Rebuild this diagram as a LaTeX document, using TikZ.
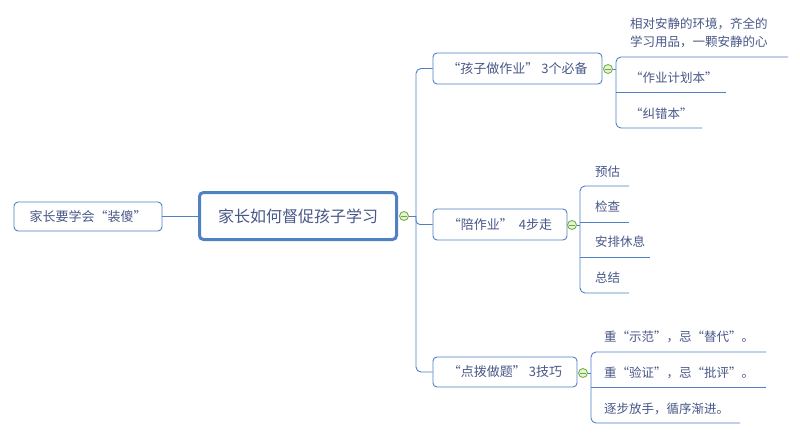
\documentclass[tikz,border=0pt]{standalone}
\usepackage{fontspec}
\setmainfont{Noto Sans CJK SC}
\definecolor{edge}{RGB}{79,129,196}
\definecolor{txt}{RGB}{72,88,136}
\definecolor{tg}{RGB}{110,170,60}
\definecolor{tf}{RGB}{228,242,214}
\tikzset{
  box/.style={draw=edge, rounded corners=4pt, line width=0.9pt, text=txt,
    font=\fontsize{13}{16}\selectfont, inner sep=0pt, fill=white},
  root/.style={box, line width=3pt, font=\fontsize{16}{19}\selectfont},
  leaf/.style={text=txt, font=\fontsize{12.5}{17.4}\selectfont, inner sep=0pt, align=left, anchor=west},
  conn/.style={draw=edge, line width=0.9pt},
  toggle/.style={circle, draw=tg, fill=tf, line width=0.8pt, minimum size=9pt, inner sep=0pt,
    path picture={\draw[tg, line width=0.9pt] ([xshift=-2.6pt]path picture bounding box.center) -- ([xshift=2.6pt]path picture bounding box.center);}}
}
\begin{document}
\begin{tikzpicture}[x=1pt, y=-1pt]
\useasboundingbox[fill=white] (0,0) rectangle (800,436);

% main nodes
\node[box, minimum width=148pt, minimum height=29pt] (L) at (88,216.5) {家长要学会“装傻”};
\node[root, minimum width=197pt, minimum height=47pt] (R) at (298,216) {家长如何督促孩子学习};
\node[box, minimum width=169pt, minimum height=31pt] (b1) at (517.5,68.5) {“孩子做作业” 3个必备};
\node[box, minimum width=134pt, minimum height=31pt] (b2) at (500,224.5) {“陪作业”\ \ 4步走};
\node[box, minimum width=144pt, minimum height=30pt] (b3) at (505,372) {“点拨做题” 3技巧};

% toggles
\node[toggle] (t0) at (404,216) {};
\node[toggle] (t1) at (608,69) {};
\node[toggle] (t2) at (572,225) {};
\node[toggle] (t3) at (583,373) {};

% trunk
\coordinate (tk) at (416,0);
\draw[conn] (L.east |- R.west) -- (R.west);
\draw[conn] (t0.east) -- (t0.east -| tk);
\draw[conn, rounded corners=5pt] (b1.west) -- (b1.west -| tk) -- (b3.west -| tk) -- (b3.west);
\draw[conn, rounded corners=4pt] (t0.east -| tk) |- (b2.west);

% branch 1 leaves
\node[leaf] (c11) at (630,33) {相对安静的环境，齐全的\\学习用品，一颗安静的心};
\node[leaf] (c12) at (630,78) {“作业计划本”};
\node[leaf] (c13) at (630,114) {“纠错本”};
\coordinate (u11a) at (616,57);  \coordinate (u11b) at (788,57);
\coordinate (u12a) at (616,92);  \coordinate (u12b) at (726,92);
\coordinate (u13a) at (616,128); \coordinate (u13b) at (702,128);
\draw[conn] (t1.east) -- (t1.east -| u11a);
\draw[conn, rounded corners=5pt] (u11b) -- (u11a) -- (u13a) -- (u13b);
\draw[conn] (u12a) -- (u12b);

% branch 2 leaves
\node[leaf] (c21) at (595,172) {预估};
\node[leaf] (c22) at (595,207) {检查};
\node[leaf] (c23) at (595,242) {安排休息};
\node[leaf] (c24) at (595,278) {总结};
\coordinate (u21a) at (580,186); \coordinate (u21b) at (629,186);
\coordinate (u22a) at (580,222); \coordinate (u22b) at (629,222);
\coordinate (u23a) at (580,257); \coordinate (u23b) at (650,257);
\coordinate (u24a) at (580,293); \coordinate (u24b) at (629,293);
\draw[conn] (t2.east) -- (t2.east -| u21a);
\draw[conn, rounded corners=5pt] (u21b) -- (u21a) -- (u24a) -- (u24b);
\draw[conn] (u22a) -- (u22b);
\draw[conn] (u23a) -- (u23b);

% branch 3 leaves
\node[leaf] (c31) at (604,337) {重“示范”，忌“替代”。};
\node[leaf] (c32) at (604,373) {重“验证”，忌“批评”。};
\node[leaf] (c33) at (604,409) {逐步放手，循序渐进。};
\coordinate (u31a) at (591,352); \coordinate (u31b) at (766,352);
\coordinate (u32a) at (591,387); \coordinate (u32b) at (766,387);
\coordinate (u33a) at (591,423); \coordinate (u33b) at (740,423);
\draw[conn] (t3.east) -- (t3.east -| u31a);
\draw[conn, rounded corners=5pt] (u31b) -- (u31a) -- (u33a) -- (u33b);
\draw[conn] (u32a) -- (u32b);
\end{tikzpicture}
\end{document}
